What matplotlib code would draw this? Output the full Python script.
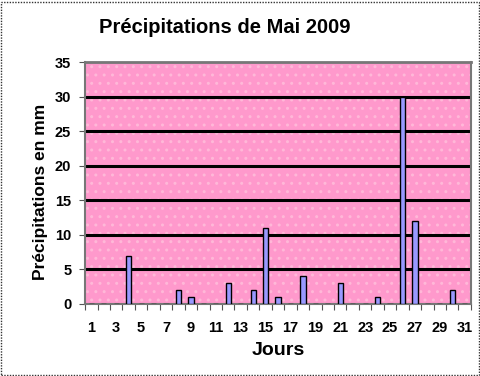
import matplotlib.pyplot as plt
import matplotlib.patches as mpatches
import numpy as np

plt.rcParams["font.family"] = ["Liberation Sans", "DejaVu Sans"]

# Data: daily rainfall in May 2009 (mm)
days = list(range(1, 32))
rain = [0, 0, 0, 7, 0, 0, 0, 2, 1, 0, 0, 3, 0, 2, 11, 1, 0, 4, 0, 0,
        3, 0, 0, 1, 0, 30, 12, 0, 0, 2, 0]
y_ticks = [0, 5, 10, 15, 20, 25, 30, 35]
x_labels = [str(d) for d in days if d % 2 == 1]

fig = plt.figure(figsize=(4.81, 3.76), dpi=100)
ax = fig.add_axes([0.177, 0.1915, 0.802, 0.643])

# Pink dotted plot area
ax.set_facecolor("#ff99cc")
ax.patch.set_hatch("..")
ax.patch.set_edgecolor("#ffb8d8")
ax.patch.set_linewidth(0)

x = np.arange(len(days))
ax.bar(x, rain, width=0.42, color="#9999ff", edgecolor="black",
       linewidth=1.0, zorder=3)

ax.set_xlim(-0.5, len(days) - 0.5)
ax.set_ylim(0, 35)
ax.set_yticks(y_ticks)
for yv in y_ticks[1:-1]:
    ax.axhline(yv, color="black", linewidth=2.2, zorder=2)

ax.set_xticks(x[::2])
ax.set_xticklabels(x_labels)
ax.set_xticks(np.arange(-0.5, len(days)), minor=True)
ax.tick_params(axis="x", which="major", length=0, pad=12,
               labelsize=10.5)
ax.tick_params(axis="x", which="minor", length=4, width=0.8,
               color="#555555", direction="out")
ax.tick_params(axis="y", length=4, width=0.8, color="#555555",
               labelsize=10.5, pad=6)
for lab in ax.get_xticklabels() + ax.get_yticklabels():
    lab.set_fontweight("bold")

for side, sp in ax.spines.items():
    sp.set_color("#777777")
    sp.set_linewidth(1.5)
ax.spines["top"].set_linewidth(2.0)

ax.set_xlabel("Jours", fontsize=14, fontweight="bold", labelpad=5)
ax.set_ylabel("Précipitations en mm", fontsize=12.5, fontweight="bold")
ax.yaxis.set_label_coords(-0.095, 0.465)
fig.text(0.468, 0.928, "Précipitations de Mai 2009", ha="center",
         va="center", fontsize=14.5, fontweight="bold")

# Dotted outer chart border
border = mpatches.Rectangle((0.002, 0.003), 0.994, 0.993,
                            transform=fig.transFigure, fill=False,
                            linestyle=(0, (1, 1)), linewidth=1.0,
                            edgecolor="#333333")
fig.patches.append(border)

fig.savefig("out.png", dpi=100)
